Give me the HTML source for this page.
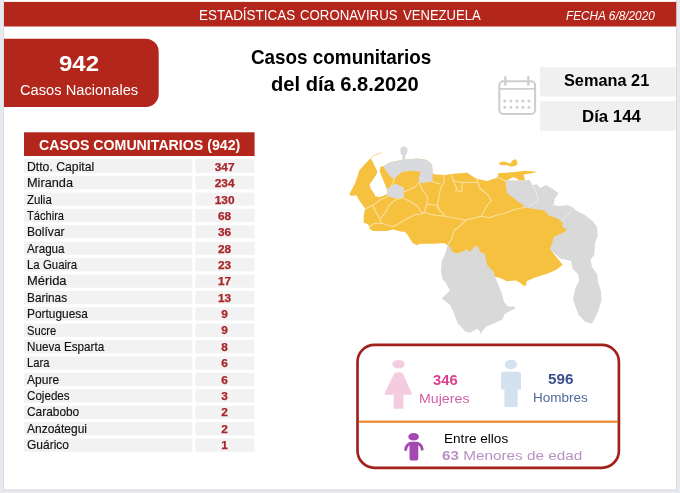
<!DOCTYPE html>
<html lang="es"><head><meta charset="utf-8"><title>Estadísticas Coronavirus Venezuela</title>
<style>
html,body{margin:0;padding:0;background:#e8e9ef;}
body{width:680px;height:493px;position:relative;overflow:hidden;font-family:"Liberation Sans",sans-serif;}
.t{position:absolute;white-space:nowrap;line-height:1;transform-origin:0 0;display:block;}
.rn{-webkit-text-stroke:0.15px #111;}
.num{position:absolute;left:195.4px;width:59.2px;text-align:center;font-weight:700;color:#a82428;-webkit-text-stroke:0.25px #a82428;line-height:1;white-space:nowrap;}
svg{position:absolute;left:0;top:0;}
</style></head><body>
<svg width="680" height="493" viewBox="0 0 680 493">
<g id="frame">
<rect x="3.2" y="-2" width="673.8" height="492.6" fill="#d9d9de"/>
<rect x="4" y="-2" width="672" height="491.4" fill="#fff"/>
</g>
<g id="blocks">
<rect x="4" y="1.9" width="672.2" height="24.6" fill="#b3261b"/>
<path d="M4,38.8 H145.7 A13,13 0 0 1 158.7,51.8 V94 A13,13 0 0 1 145.7,107 H4 Z" fill="#b3261b"/>
<rect x="540" y="67.2" width="135.9" height="29.3" fill="#f0f0f0"/>
<rect x="540" y="101.2" width="135.9" height="29.7" fill="#f0f0f0"/>
<rect x="24" y="132.3" width="230.6" height="23.7" fill="#b3261b"/>
</g>
<g id="rows" fill="#f2f2f2">

<rect x="24" y="159.00" width="168.3" height="13.9"/><rect x="195.4" y="159.00" width="59.1" height="13.9"/>
<rect x="24" y="176.10" width="168.3" height="13.2"/><rect x="195.4" y="176.10" width="59.1" height="13.2"/>
<rect x="24" y="192.50" width="168.3" height="13.2"/><rect x="195.4" y="192.50" width="59.1" height="13.2"/>
<rect x="24" y="208.90" width="168.3" height="13.2"/><rect x="195.4" y="208.90" width="59.1" height="13.2"/>
<rect x="24" y="225.30" width="168.3" height="13.2"/><rect x="195.4" y="225.30" width="59.1" height="13.2"/>
<rect x="24" y="241.70" width="168.3" height="13.2"/><rect x="195.4" y="241.70" width="59.1" height="13.2"/>
<rect x="24" y="258.10" width="168.3" height="13.2"/><rect x="195.4" y="258.10" width="59.1" height="13.2"/>
<rect x="24" y="274.50" width="168.3" height="13.2"/><rect x="195.4" y="274.50" width="59.1" height="13.2"/>
<rect x="24" y="290.90" width="168.3" height="13.2"/><rect x="195.4" y="290.90" width="59.1" height="13.2"/>
<rect x="24" y="307.30" width="168.3" height="13.2"/><rect x="195.4" y="307.30" width="59.1" height="13.2"/>
<rect x="24" y="323.70" width="168.3" height="13.2"/><rect x="195.4" y="323.70" width="59.1" height="13.2"/>
<rect x="24" y="340.10" width="168.3" height="13.2"/><rect x="195.4" y="340.10" width="59.1" height="13.2"/>
<rect x="24" y="356.50" width="168.3" height="13.2"/><rect x="195.4" y="356.50" width="59.1" height="13.2"/>
<rect x="24" y="372.90" width="168.3" height="13.2"/><rect x="195.4" y="372.90" width="59.1" height="13.2"/>
<rect x="24" y="389.30" width="168.3" height="13.2"/><rect x="195.4" y="389.30" width="59.1" height="13.2"/>
<rect x="24" y="405.70" width="168.3" height="13.2"/><rect x="195.4" y="405.70" width="59.1" height="13.2"/>
<rect x="24" y="422.10" width="168.3" height="13.2"/><rect x="195.4" y="422.10" width="59.1" height="13.2"/>
<rect x="24" y="438.50" width="168.3" height="13.2"/><rect x="195.4" y="438.50" width="59.1" height="13.2"/>
</g>
<g id="statbox">
<rect x="357.5" y="344.9" width="261.4" height="122.9" rx="17" ry="17" fill="#fff" stroke="#a3211c" stroke-width="2.7"/>
<rect x="358.6" y="420.6" width="259.2" height="2.2" fill="#e8892e"/>
</g>
<g id="map">
<path d="M505.5,181.0 L507.0,180.2 L525.0,180.4 L529.5,179.7 L532.5,185.0 L537.0,184.2 L540.0,188.0 L546.0,185.0 L553.5,189.5 L558.7,193.2 L555.0,198.5 L553.5,204.5 L559.5,206.0 L567.0,204.8 L573.0,207.5 L576.0,210.5 L585.0,215.0 L592.5,221.0 L597.0,227.0 L597.7,236.0 L595.0,243.0 L594.2,255.0 L590.5,259.5 L592.0,267.0 L597.2,274.5 L598.0,282.0 L601.0,291.0 L601.5,300.5 L597.7,312.5 L594.0,320.0 L591.7,323.7 L585.0,321.5 L579.0,315.5 L576.0,308.0 L573.0,299.0 L575.2,288.5 L579.0,281.0 L578.5,274.5 L572.5,268.5 L571.0,261.0 L565.0,259.5 L560.5,258.7 L545.0,245.0 L540.0,230.0 L505.5,195.0Z" fill="#d9d9d9"/>
<path d="M447.7,245.0 L444.7,255.0 L441.7,261.0 L441.0,271.5 L442.5,279.0 L445.5,282.5 L448.5,288.0 L450.0,290.5 L441.7,298.2 L450.0,305.0 L453.0,311.0 L457.5,323.0 L465.0,331.2 L469.5,332.7 L477.0,329.0 L480.0,331.2 L480.7,334.2 L483.0,330.5 L486.0,326.7 L495.0,323.0 L502.5,319.2 L504.7,314.0 L510.0,311.0 L515.2,308.7 L514.5,306.5 L508.5,306.5 L504.0,302.0 L501.7,293.0 L498.0,284.0 L495.0,276.7 L492.0,250.0 L470.0,240.0 L447.7,240.0Z" fill="#d9d9d9"/>
<path d="M370.6,158.3 L372.4,161.2 L375.1,166.7 L377.3,171.2 L376.7,174.0 L373.4,179.0 L369.5,184.6 L370.6,188.5 L373.9,192.9 L375.6,196.4 L379.5,197.0 L383.0,196.0 L385.6,194.8 L387.2,194.0 L387.3,190.7 L385.6,185.7 L382.3,177.9 L379.5,170.6 L380.6,166.7 L383.2,166.3 L390.0,162.2 L402.0,160.0 L417.0,158.5 L426.7,160.0 L432.0,164.5 L432.7,172.7 L433.7,174.2 L445.0,175.0 L455.5,173.5 L467.5,172.7 L470.5,175.0 L476.5,178.7 L487.0,181.0 L496.0,178.0 L498.0,175.7 L498.0,173.2 L506.0,172.8 L514.5,172.0 L525.0,170.8 L537.0,171.7 L531.0,173.5 L523.5,174.5 L525.0,180.2 L519.0,180.5 L516.0,178.0 L513.0,177.2 L507.0,180.2 L505.5,181.0 L506.2,187.0 L507.0,193.0 L510.0,195.5 L514.5,198.5 L517.5,201.5 L522.0,204.0 L525.0,207.5 L535.5,209.3 L544.5,210.5 L549.0,215.7 L556.5,218.0 L560.2,220.5 L562.6,222.0 L562.5,227.0 L567.2,229.8 L562.0,233.2 L553.7,237.0 L552.2,243.0 L550.0,249.0 L556.0,256.5 L562.7,264.7 L556.0,270.0 L547.0,273.7 L535.0,277.5 L526.7,281.2 L526.0,285.7 L523.7,285.7 L520.0,282.7 L516.0,280.5 L507.0,281.2 L501.0,278.2 L495.0,276.7 L493.5,271.5 L487.5,265.5 L486.0,259.5 L484.5,253.5 L480.0,252.0 L479.2,249.0 L477.0,245.2 L474.0,247.5 L469.5,252.0 L466.5,249.0 L463.5,251.2 L456.0,253.5 L452.2,251.2 L450.0,246.7 L447.7,245.2 L444.0,243.0 L435.0,243.7 L429.0,243.7 L420.0,243.7 L417.0,245.2 L412.5,243.0 L408.0,235.5 L405.0,231.7 L402.0,231.7 L393.0,229.5 L387.0,231.0 L372.7,231.0 L369.7,228.7 L368.2,224.2 L363.7,222.7 L363.7,216.0 L365.2,208.5 L360.0,201.5 L356.2,195.2 L351.0,196.0 L349.5,193.7 L355.5,182.5 L359.2,170.5 L364.5,164.5Z" fill="#f5c13f"/>
<path d="M498.7,163.0 L502.5,161.5 L507.0,162.2 L510.0,163.7 L513.0,160.0 L516.0,159.2 L517.5,162.2 L516.7,165.2 L511.5,166.7 L507.0,165.2 L502.5,165.2 L499.5,164.5Z" fill="#f5c13f"/>
<path d="M370.5,158.5 L374,155.5 L381.7,152.6" fill="none" stroke="#f7d688" stroke-width="1"/>
<path d="M383.2,166.3 L390.0,162.2 L402.0,160.0 L417.0,158.5 L426.7,160.0 L432.0,164.5 L432.7,172.7 L423.0,172.0 L411.0,170.8 L402.0,172.0 L396.5,176.5 L394.0,179.3 L390.1,176.2 L386.8,171.7Z" fill="#d9dadd"/>
<path d="M400.6,153.3 L400.2,150.0 L401.2,147.2 L404.0,146.3 L406.8,147.4 L407.6,150.6 L407.0,153.8 L405.4,155.3 L405.2,160.0 L402.4,160.5 L402.4,155.2Z" fill="#d9dadd"/>
<path d="M421.0,171.2 L432.7,171.2 L432.5,181.7 L419.5,183.2 L418.7,178.0Z" fill="#d9dadd"/>
<path d="M387.5,188.5 L391.0,186.0 L395.5,183.8 L399.5,185.5 L403.7,187.5 L404.0,197.5 L400.0,198.5 L394.5,198.2 L387.0,196.0Z" fill="#d9dadd"/>
<path d="M365.0,209.0 L372.9,205.1 L380.7,199.5 L387.4,196.7 M372.9,205.1 L375.1,210.7 L379.0,217.4 L381.2,223.0 L374.0,223.5 L369.5,226.9 M380.7,218.5 L385.1,212.9 L388.5,206.2 L392.9,201.7 L397.4,199.0 L403.0,197.8 M381.2,223.0 L388.5,225.7 L394.1,226.3 L399.6,222.9 L407.5,218.5 L415.3,214.6 L422.0,214.0 L424.0,212.5 M404.1,198.4 L410.8,201.7 L417.5,206.2 L422.0,213.0 M404.0,191.7 L409.7,189.5 L415.3,186.7 L418.7,182.5 M419.5,183.2 L422.5,190.0 L427.5,196.5 L427.0,203.5 L424.0,212.5 M424.0,212.5 L436.0,215.5 L445.0,216.2 L452.5,217.7 L466.0,220.0 L478.0,217.0 L481.0,216.2 L490.0,217.7 L495.0,215.5 L502.0,214.0 L507.0,212.5 L514.5,209.5 L525.0,207.3 M427.7,204.2 L436.0,205.0 L439.0,209.5 L445.0,215.8 M432.2,181.7 L440.5,184.0 M443.5,175.0 L444.2,182.5 L440.5,188.5 L439.0,197.5 L437.5,203.5 L439.0,209.5 M451.7,175.0 L454.0,182.5 L457.0,188.5 L455.5,190.7 L461.5,191.5 L462.4,184.0 L462.7,182.5 M453.0,181.0 L462.7,182.5 L478.0,182.5 M476.5,178.7 L478.0,182.5 L480.0,188.5 L487.5,194.5 L491.5,200.5 L487.0,205.5 L484.0,211.0 L481.0,216.2 M466.0,220.0 L460.0,226.0 L454.0,230.5 L452.0,238.0 L448.0,245.0 M495.0,178.7 L498.0,177.2 L505.5,181.0 M394.0,179.3 L393.4,182.3 L391.2,186.3" fill="none" stroke="#fae0a0" stroke-width="1.1" stroke-linejoin="round" stroke-linecap="round"/>
<path d="M531.8,184.3 L536,192 L538,199.7 L534,203.5 L529.7,205.9 M552.5,205.8 L560,205.5 L567,205 M561,221 L566,216.5 L572,210.5" fill="none" stroke="#fff" stroke-opacity="0.55" stroke-width="0.9" stroke-linecap="round" stroke-linejoin="round"/>
</g>
<g id="cal" fill="none" stroke="#cecece" stroke-width="2.1">
<rect x="499.3" y="81.2" width="35.8" height="32.8" rx="4" ry="4"/>
<line x1="499.3" y1="88.8" x2="535.1" y2="88.8" stroke-width="1.8"/>
<line x1="505.3" y1="77.2" x2="505.3" y2="84.6" stroke-width="2.4" stroke-linecap="round"/>
<line x1="528.3" y1="77.2" x2="528.3" y2="84.6" stroke-width="2.4" stroke-linecap="round"/>
</g>
<g id="caldots" fill="#cecece">

<rect x="503.5" y="99.8" width="2.6" height="2.6"/>
<rect x="509.6" y="99.8" width="2.6" height="2.6"/>
<rect x="515.7" y="99.8" width="2.6" height="2.6"/>
<rect x="521.6" y="99.8" width="2.6" height="2.6"/>
<rect x="527.6" y="99.8" width="2.6" height="2.6"/>
<rect x="503.5" y="106.1" width="2.6" height="2.6"/>
<rect x="509.6" y="106.1" width="2.6" height="2.6"/>
<rect x="515.7" y="106.1" width="2.6" height="2.6"/>
<rect x="521.6" y="106.1" width="2.6" height="2.6"/>
<rect x="527.6" y="106.1" width="2.6" height="2.6"/>
</g>
<g id="woman" fill="#f5cbdf">
<ellipse cx="398.5" cy="364.3" rx="6.2" ry="4.2"/>
<path d="M395.6,372.7 Q398.5,371.7 401.4,372.7 L402.8,373.5 L412.1,393.8 L411.5,394.7 L403.4,394.7 L403.4,408.8 L393.7,408.8 L393.7,394.7 L385,394.7 L384.4,393.8 L394.2,373.5 Z"/>
</g>
<g id="man" fill="#d4e1ef">
<ellipse cx="510.9" cy="364.4" rx="6.2" ry="4.6"/>
<path d="M504,371.8 L518,371.8 Q521,371.8 521,374.8 L521,389.6 L517.6,389.6 L517.6,407.1 L504.4,407.1 L504.4,389.6 L501,389.6 L501,374.8 Q501,371.8 504,371.8 Z"/>
</g>
<g id="child" fill="#a349b1">
<ellipse cx="413.6" cy="436.8" rx="5.3" ry="3.8"/>
<rect x="409.5" y="441.8" width="8.8" height="18.7" rx="2.6" ry="2.6"/>
<path d="M411,443.2 Q406.3,444.4 405.7,449.6 M416.8,443.2 Q421.6,444.4 422.2,449.2" fill="none" stroke="#a349b1" stroke-width="2.9" stroke-linecap="round"/>
</g>
</svg>

<span class="t" id="t_title1" style="left:199.09px;top:8.17px;font-size:14.8px;font-weight:400;color:#fff;transform:scaleX(0.9096);">ESTADÍSTICAS</span>
<span class="t" id="t_title2" style="left:299.71px;top:8.17px;font-size:14.8px;font-weight:400;color:#fff;transform:scaleX(0.8944);">CORONAVIRUS</span>
<span class="t" id="t_title3" style="left:402.80px;top:8.17px;font-size:14.8px;font-weight:400;color:#fff;transform:scaleX(0.8841);">VENEZUELA</span>
<span class="t" id="t_fecha" style="left:565.70px;top:10.34px;font-size:12px;font-weight:400;color:#fff;font-style:italic;transform:scaleX(0.9833);">FECHA 6/8/2020</span>
<span class="t" id="t_942" style="left:58.94px;top:53.27px;font-size:22.6px;font-weight:700;color:#fff;transform:scaleX(1.0611);">942</span>
<span class="t" id="t_cn" style="left:20.20px;top:82.96px;font-size:14.7px;font-weight:400;color:#fff;transform:scaleX(0.9983);">Casos Nacionales</span>
<span class="t" id="t_h1" style="left:251.44px;top:48.12px;font-size:19.7px;font-weight:700;color:#000;transform:scaleX(0.9581);">Casos comunitarios</span>
<span class="t" id="t_h2" style="left:270.78px;top:75.02px;font-size:19.7px;font-weight:700;color:#000;transform:scaleX(1.0217);">del día 6.8.2020</span>
<span class="t" id="t_sem" style="left:564.07px;top:73.13px;font-size:15.8px;font-weight:700;color:#000;transform:scaleX(1.0321);">Semana 21</span>
<span class="t" id="t_dia" style="left:581.74px;top:109.33px;font-size:15.8px;font-weight:700;color:#000;transform:scaleX(1.0648);">Día 144</span>
<span class="t" id="t_th" style="left:39.00px;top:138.45px;font-size:14px;font-weight:700;color:#fff;transform:scaleX(1.0121);">CASOS COMUNITARIOS (942)</span>
<span class="t" id="t_346" style="left:432.70px;top:372.75px;font-size:14px;font-weight:700;color:#d8418f;transform:scaleX(1.0522);">346</span>
<span class="t" id="t_muj" style="left:419.29px;top:392.56px;font-size:12.8px;font-weight:400;color:#d25fa5;transform:scaleX(1.1091);">Mujeres</span>
<span class="t" id="t_596" style="left:547.70px;top:372.25px;font-size:14px;font-weight:700;color:#3a4f8c;transform:scaleX(1.0870);">596</span>
<span class="t" id="t_hom" style="left:532.55px;top:391.76px;font-size:12.8px;font-weight:400;color:#50699b;transform:scaleX(1.0549);">Hombres</span>
<span class="t" id="t_ee" style="left:443.89px;top:433.19px;font-size:12.3px;font-weight:400;color:#000;transform:scaleX(1.1053);">Entre ellos</span>
<span class="t" id="t_men" style="left:442.30px;top:448.79px;font-size:13.6px;font-weight:400;color:#b891c2;transform:scaleX(1.1250);"><b>63</b> Menores de edad</span>
<span class="t rn" id="rn0" style="left:27.00px;top:161.03px;font-size:12.6px;color:#111;transform:scaleX(0.9706);">Dtto. Capital</span>
<span class="num" id="rv0" style="top:161.97px;font-size:11.5px;transform:scaleX(1.0300);">347</span>
<span class="t rn" id="rn1" style="left:27.00px;top:177.38px;font-size:12.6px;color:#111;transform:scaleX(1.0114);">Miranda</span>
<span class="num" id="rv1" style="top:178.32px;font-size:11.5px;transform:scaleX(1.0300);">234</span>
<span class="t rn" id="rn2" style="left:27.00px;top:193.73px;font-size:12.6px;color:#111;transform:scaleX(0.9074);">Zulia</span>
<span class="num" id="rv2" style="top:194.67px;font-size:11.5px;transform:scaleX(1.0300);">130</span>
<span class="t rn" id="rn3" style="left:27.00px;top:210.08px;font-size:12.6px;color:#111;transform:scaleX(0.8810);">Táchira</span>
<span class="num" id="rv3" style="top:211.02px;font-size:11.5px;transform:scaleX(1.0300);">68</span>
<span class="t rn" id="rn4" style="left:27.00px;top:226.43px;font-size:12.6px;color:#111;transform:scaleX(0.9605);">Bolívar</span>
<span class="num" id="rv4" style="top:227.37px;font-size:11.5px;transform:scaleX(1.0300);">36</span>
<span class="t rn" id="rn5" style="left:27.00px;top:242.78px;font-size:12.6px;color:#111;transform:scaleX(0.9250);">Aragua</span>
<span class="num" id="rv5" style="top:243.72px;font-size:11.5px;transform:scaleX(1.0300);">28</span>
<span class="t rn" id="rn6" style="left:27.00px;top:259.13px;font-size:12.6px;color:#111;transform:scaleX(0.9074);">La Guaira</span>
<span class="num" id="rv6" style="top:260.07px;font-size:11.5px;transform:scaleX(1.0300);">23</span>
<span class="t rn" id="rn7" style="left:27.00px;top:275.48px;font-size:12.6px;color:#111;transform:scaleX(1.0270);">Mérida</span>
<span class="num" id="rv7" style="top:276.42px;font-size:11.5px;transform:scaleX(1.0300);">17</span>
<span class="t rn" id="rn8" style="left:27.00px;top:291.83px;font-size:12.6px;color:#111;transform:scaleX(0.9390);">Barinas</span>
<span class="num" id="rv8" style="top:292.77px;font-size:11.5px;transform:scaleX(1.0300);">13</span>
<span class="t rn" id="rn9" style="left:27.00px;top:308.18px;font-size:12.6px;color:#111;transform:scaleX(0.9444);">Portuguesa</span>
<span class="num" id="rv9" style="top:309.12px;font-size:11.5px;transform:scaleX(1.0300);">9</span>
<span class="t rn" id="rn10" style="left:27.00px;top:324.53px;font-size:12.6px;color:#111;transform:scaleX(0.8906);">Sucre</span>
<span class="num" id="rv10" style="top:325.47px;font-size:11.5px;transform:scaleX(1.0300);">9</span>
<span class="t rn" id="rn11" style="left:27.00px;top:340.88px;font-size:12.6px;color:#111;transform:scaleX(0.9268);">Nueva Esparta</span>
<span class="num" id="rv11" style="top:341.82px;font-size:11.5px;transform:scaleX(1.0300);">8</span>
<span class="t rn" id="rn12" style="left:27.00px;top:357.23px;font-size:12.6px;color:#111;transform:scaleX(0.8958);">Lara</span>
<span class="num" id="rv12" style="top:358.17px;font-size:11.5px;transform:scaleX(1.0300);">6</span>
<span class="t rn" id="rn13" style="left:27.00px;top:373.58px;font-size:12.6px;color:#111;transform:scaleX(0.9545);">Apure</span>
<span class="num" id="rv13" style="top:374.52px;font-size:11.5px;transform:scaleX(1.0300);">6</span>
<span class="t rn" id="rn14" style="left:27.00px;top:389.93px;font-size:12.6px;color:#111;transform:scaleX(0.9222);">Cojedes</span>
<span class="num" id="rv14" style="top:390.87px;font-size:11.5px;transform:scaleX(1.0300);">3</span>
<span class="t rn" id="rn15" style="left:27.00px;top:406.28px;font-size:12.6px;color:#111;transform:scaleX(0.9444);">Carabobo</span>
<span class="num" id="rv15" style="top:407.22px;font-size:11.5px;transform:scaleX(1.0300);">2</span>
<span class="t rn" id="rn16" style="left:27.00px;top:422.63px;font-size:12.6px;color:#111;transform:scaleX(0.9516);">Anzoátegui</span>
<span class="num" id="rv16" style="top:423.57px;font-size:11.5px;transform:scaleX(1.0300);">2</span>
<span class="t rn" id="rn17" style="left:27.00px;top:438.98px;font-size:12.6px;color:#111;transform:scaleX(0.9535);">Guárico</span>
<span class="num" id="rv17" style="top:439.92px;font-size:11.5px;transform:scaleX(1.0300);">1</span>
</body></html>
